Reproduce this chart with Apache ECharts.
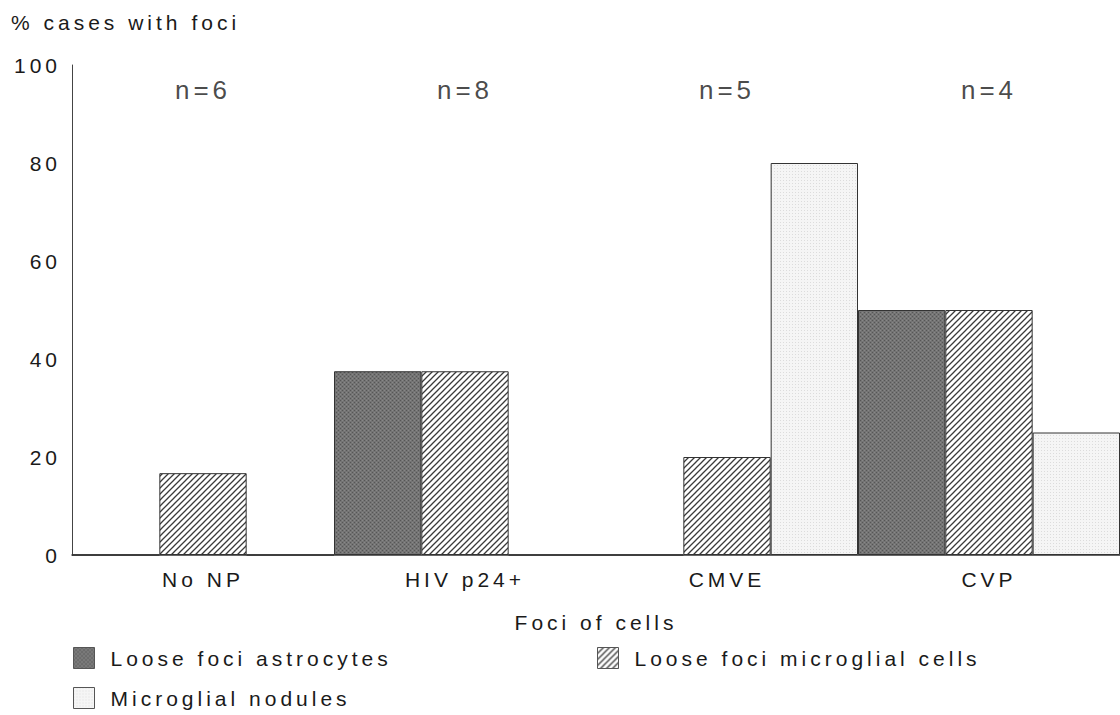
<!DOCTYPE html>
<html>
<head>
<meta charset="utf-8">
<style>
  html, body { margin: 0; padding: 0; background: #fff; }
  #chart { width: 1120px; height: 715px; }
  #chart svg text { letter-spacing: 4px; }
</style>
<script src="https://cdn.jsdelivr.net/npm/echarts@6/dist/echarts.min.js"></script>
</head>
<body>
<div id="chart"></div>
<script>
// ---- data ----
const categories = ['No NP', 'HIV p24+', 'CMVE', 'CVP'];
const seriesNames = ['Loose foci astrocytes', 'Loose foci microglial cells', 'Microglial nodules'];
const astrocytes = [0, 37.5, 0, 50];
const microglialCells = [16.7, 37.5, 20, 50];
const nodules = [0, 0, 80, 25];
const nLabels = ['n=6', 'n=8', 'n=5', 'n=4'];
const yTicks = [0, 20, 40, 60, 80, 100];

// ---- patterns ----
function tile(size, draw) {
  const c = document.createElement('canvas');
  c.width = size; c.height = size;
  const ctx = c.getContext('2d');
  draw(ctx, size);
  return { image: c, repeat: 'repeat', imageWidth: size, imageHeight: size };
}
const darkPattern = tile(4, (ctx, s) => {
  ctx.fillStyle = '#747474'; ctx.fillRect(0, 0, s, s);
  ctx.fillStyle = '#565656';
  ctx.fillRect(0, 0, 1, 1); ctx.fillRect(2, 2, 1, 1);
  ctx.fillStyle = '#888888';
  ctx.fillRect(2, 0, 1, 1); ctx.fillRect(0, 2, 1, 1);
});
const lightPattern = tile(3, (ctx, s) => {
  ctx.fillStyle = '#f5f5f5'; ctx.fillRect(0, 0, s, s);
  ctx.fillStyle = '#dcdcdc';
  ctx.fillRect(0, 0, 1, 1);
});
const hatchPattern = tile(6, (ctx, s) => {
  ctx.fillStyle = '#ffffff'; ctx.fillRect(0, 0, s, s);
  ctx.strokeStyle = '#3a3a3a'; ctx.lineWidth = 1.3;
  ctx.beginPath();
  ctx.moveTo(0, s); ctx.lineTo(s, 0);
  ctx.moveTo(-1, 1); ctx.lineTo(1, -1);
  ctx.moveTo(s - 1, s + 1); ctx.lineTo(s + 1, s - 1);
  ctx.stroke();
});

const FONT = 'Liberation Sans';
const txt = '#1a1a1a';

const chart = echarts.init(document.getElementById('chart'), null, { renderer: 'svg' });

function barSeries(name, data, pattern) {
  return {
    name: name,
    type: 'bar',
    data: data,
    barGap: '0%',
    barCategoryGap: '0%',
    itemStyle: { color: pattern, borderColor: '#333', borderWidth: 1 },
    emphasis: { disabled: true }
  };
}

function legendAt(name, left, top) {
  return {
    data: [name],
    left: left, top: top,
    padding: 0,
    itemWidth: 21, itemHeight: 21,
    icon: 'rect',
    selectedMode: false,
    itemStyle: { borderColor: '#555', borderWidth: 1 },
    textStyle: { fontFamily: FONT, fontSize: 21, color: txt, padding: [0, 0, 0, 11] }
  };
}

chart.setOption({
  animation: false,
  backgroundColor: '#fff',
  title: {
    text: '% cases with foci',
    left: 11, top: 12,
    padding: 0,
    textStyle: { fontFamily: FONT, fontSize: 21, fontWeight: 'normal', color: txt }
  },
  legend: [
    legendAt(seriesNames[0], 73, 647),
    legendAt(seriesNames[1], 597, 647),
    legendAt(seriesNames[2], 73, 687)
  ],
  grid: { left: 72, right: -6, top: 65, bottom: 160, containLabel: false },
  xAxis: {
    type: 'category',
    data: categories,
    name: 'Foci of cells',
    nameLocation: 'middle',
    nameGap: 67,
    nameTextStyle: { fontFamily: FONT, fontSize: 21, color: txt, verticalAlign: 'middle' },
    axisLine: { show: true, lineStyle: { color: '#333', width: 1.5 } },
    axisTick: { show: false },
    axisLabel: { fontFamily: FONT, fontSize: 21, color: txt, margin: 14 }
  },
  yAxis: {
    type: 'value',
    min: yTicks[0],
    max: yTicks[yTicks.length - 1],
    interval: yTicks[1] - yTicks[0],
    axisLine: { show: true, lineStyle: { color: '#444', width: 1 } },
    axisTick: { show: false },
    splitLine: { show: false },
    axisLabel: { fontFamily: FONT, fontSize: 21, color: txt, margin: 11 }
  },
  series: [
    barSeries(seriesNames[0], astrocytes, darkPattern),
    barSeries(seriesNames[1], microglialCells, hatchPattern),
    barSeries(seriesNames[2], nodules, lightPattern),
    {
      type: 'scatter',
      name: 'n',
      symbolSize: 0,
      silent: true,
      data: categories.map((c, i) => ({ value: [c, 95], label: { formatter: nLabels[i] } })),
      label: {
        show: true,
        position: 'inside',
        fontFamily: FONT,
        fontSize: 26,
        color: txt
      }
    }
  ]
});
</script>
</body>
</html>
